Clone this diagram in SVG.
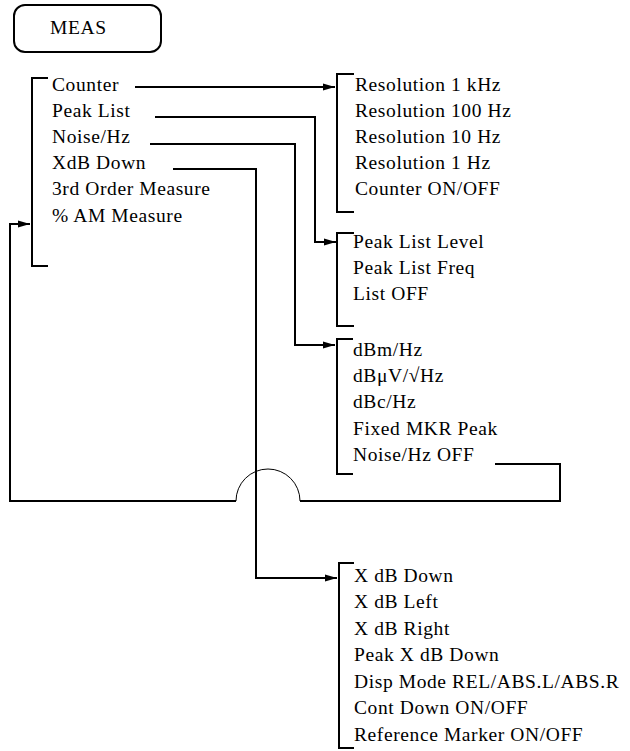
<svg xmlns="http://www.w3.org/2000/svg" width="630" height="751" viewBox="0 0 630 751">
<style>
text{font-family:"Liberation Serif","Times New Roman",serif;font-size:19.5px;letter-spacing:0.6px;fill:#000}
.ln{fill:none;stroke:#000;stroke-width:2}
.thin{fill:none;stroke:#000;stroke-width:1}
</style>
<defs>
<marker id="ah" markerWidth="12" markerHeight="8" refX="12" refY="4" orient="auto" markerUnits="userSpaceOnUse">
<path d="M0,0.5 L12,4 L0,7.5 Z" fill="#000"/>
</marker>
</defs>
<rect width="630" height="751" fill="#fff"/>
<g id="meas">
<rect x="14" y="5" width="147" height="47" rx="11" ry="11" class="ln" stroke-width="1.6"/>
<text x="50" y="34">MEAS</text>
</g>
<g id="main-menu">
<path class="ln" d="M48,78 H32 V266 H48"/>
<text x="52" y="91">Counter</text>
<text x="52" y="117">Peak List</text>
<text x="52" y="143">Noise/Hz</text>
<text x="52" y="169">XdB Down</text>
<text x="52" y="195">3rd Order Measure</text>
<text x="52" y="222">% AM Measure</text>
</g>
<g id="counter-menu">
<path class="ln" d="M354,74 H337 V212 H354"/>
<text x="355" y="91">Resolution 1 kHz</text>
<text x="355" y="117">Resolution 100 Hz</text>
<text x="355" y="143">Resolution 10 Hz</text>
<text x="355" y="169">Resolution 1 Hz</text>
<text x="355" y="195">Counter ON/OFF</text>
</g>
<g id="peaklist-menu">
<path class="ln" d="M354,233 H337 V326 H354"/>
<text x="353" y="248">Peak List Level</text>
<text x="353" y="274">Peak List Freq</text>
<text x="353" y="300">List OFF</text>
</g>
<g id="noise-menu">
<path class="ln" d="M353,339 H337 V474 H353"/>
<text x="353" y="356">dBm/Hz</text>
<text x="353" y="382">dBμV/√Hz</text>
<text x="353" y="408">dBc/Hz</text>
<text x="353" y="435">Fixed MKR Peak</text>
<text x="353" y="461">Noise/Hz OFF</text>
</g>
<g id="xdb-menu">
<path class="ln" d="M354,563 H339 V748 H354"/>
<text x="354" y="582">X dB Down</text>
<text x="354" y="608">X dB Left</text>
<text x="354" y="635">X dB Right</text>
<text x="354" y="661">Peak X dB Down</text>
<text x="354" y="688">Disp Mode REL/ABS.L/ABS.R</text>
<text x="354" y="714">Cont Down ON/OFF</text>
<text x="354" y="741">Reference Marker ON/OFF</text>
</g>
<g id="connectors">
<path class="ln" d="M135,87 H335" marker-end="url(#ah)"/>
<path class="ln" d="M155,117 H315 V242 H336" marker-end="url(#ah)"/>
<path class="ln" d="M150,144 H295 V345 H335" marker-end="url(#ah)"/>
<path class="ln" d="M173,169 H256 V578 H337" marker-end="url(#ah)"/>
<path class="ln" d="M495,464 H560 V501 H300"/>
<path class="thin" d="M300,501 A32,32 0 0 0 236,501"/>
<path class="ln" d="M236,501 H10 V224 H30" marker-end="url(#ah)"/>
</g>
</svg>
